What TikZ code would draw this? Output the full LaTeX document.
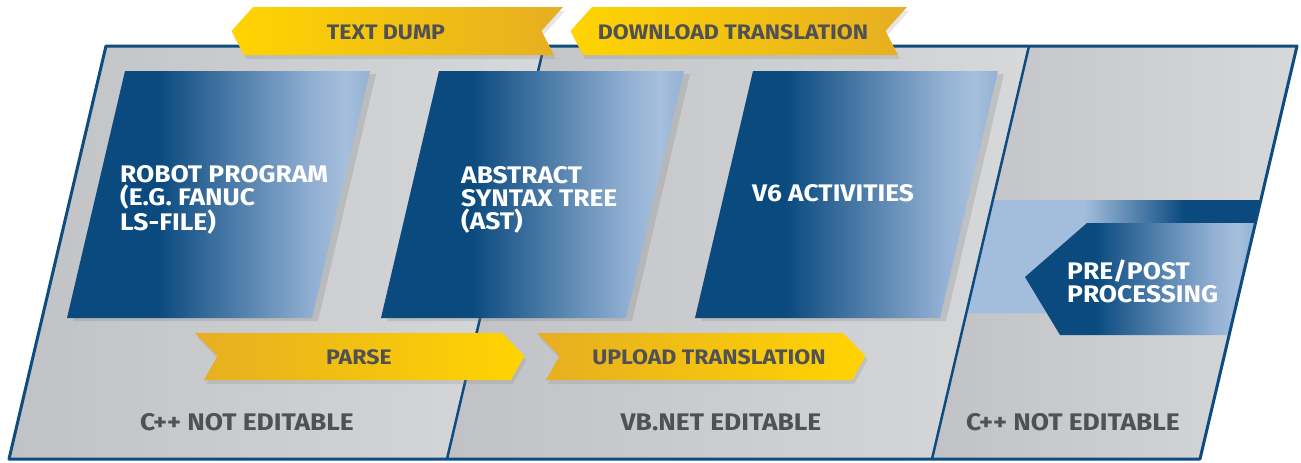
\documentclass[tikz,border=0pt]{standalone}
\usepackage{fontspec}
\setmainfont{Fira Sans}[FakeStretch=1.1]
\usetikzlibrary{shadows}

\definecolor{frameblue}{HTML}{0E4C80}
\definecolor{boxdark}{HTML}{0A4A7F}
\definecolor{boxlight}{HTML}{93B1D4}
\definecolor{boxedge}{HTML}{A6BFDC}
\definecolor{bandlight}{HTML}{A3BDDC}
\definecolor{greydark}{HTML}{C0C2C5}
\definecolor{greylight}{HTML}{D6D8DA}
\definecolor{ribbonbright}{HTML}{FFD400}
\definecolor{ribbongold}{HTML}{E6AE22}
\definecolor{labelgrey}{HTML}{505154}

\pgfdeclarehorizontalshading{boxshade}{100bp}{color(0bp)=(boxdark); color(40bp)=(boxdark); color(66bp)=(boxlight); color(71bp)=(boxedge); color(75bp)=(boxlight); color(100bp)=(boxlight)}
\pgfdeclarehorizontalshading{bandshade}{100bp}{color(0bp)=(bandlight); color(45bp)=(bandlight); color(62bp)=(boxdark); color(100bp)=(boxdark)}

\begin{document}
\begin{tikzpicture}[
  x=1pt, y=-1pt,
  every node/.style={inner sep=0pt},
  panel/.style={left color=greydark, right color=greylight},
  border/.style={draw=frameblue, line width=3pt, line join=round},
  divider/.style={draw=frameblue, line width=2.5pt},
  bluebox/.style={shading=boxshade, drop shadow={opacity=0.25, shadow xshift=6pt, shadow yshift=-3pt}},
  ribbonback/.style={left color=ribbonbright, right color=ribbongold, drop shadow={opacity=0.2, shadow xshift=2pt, shadow yshift=-4pt}},
  ribbonfwd/.style={left color=ribbongold, right color=ribbonbright, drop shadow={opacity=0.2, shadow xshift=2pt, shadow yshift=-4pt}},
  boxtext/.style={text=white, align=left, anchor=west, font=\bfseries\fontsize{24}{23}\selectfont},
  ribbontext/.style={text=labelgrey, font=\bfseries\fontsize{21}{22}\selectfont},
  paneltext/.style={text=labelgrey, font=\bfseries\fontsize{24}{25}\selectfont}
]
\useasboundingbox (0,0) rectangle (1301,463);

% Grey panels
\path[panel] (106,46) -- (544,46) -- (447,459) -- (9,459) -- cycle;
\path[panel] (544,46) -- (1029,46) -- (932,459) -- (447,459) -- cycle;
\path[panel] (1029,46) -- (1297,46) -- (1200,459) -- (932,459) -- cycle;

% Band and arrow in the right panel
\path[shading=bandshade] (993,200) -- (1261,200) -- (1234,313) -- (966,313) -- cycle;
\path[shading=boxshade] (1087,223) -- (1256,223) -- (1229,335) -- (1060,335) -- (1025,277) -- cycle;

% Frame
\path[border] (106,46) -- (1297,46) -- (1200,459) -- (9,459) -- cycle;
\path[divider] (544,46) -- (447,459);
\path[divider] (1029,46) -- (932,459);

% Blue boxes
\foreach \x in {125,439,753}
  \path[bluebox] (\x,71) -- ++(245,0) -- ++(-58,247) -- ++(-245,0) -- cycle;

% Ribbons, top row
\foreach \xl/\xr in {253/563, 592/907}
  \path[ribbonback] (\xl,7) -- (\xr,7) -- ({\xr-21.5},31) -- ({\xr-9},55)
    -- ({\xl-9},55) -- ({\xl-21.5},31) -- cycle;

% Ribbons, bottom row
\foreach \xl/\xr in {195/502, 537/843}
  \path[ribbonfwd] (\xl,333) -- (\xr,333) -- ({\xr+22.5},356) -- ({\xr+9},380)
    -- ({\xl+9},380) -- ({\xl+22.5},356) -- cycle;

% Box labels
\node[boxtext] (robot) at (120,200) {ROBOT PROGRAM\\(E.G. FANUC\\LS-FILE)};
\node[boxtext] (ast) at (461,200) {ABSTRACT\\SYNTAX TREE\\(AST)};
\node[boxtext] (activities) at (752,193) {V6 ACTIVITIES};
\node[boxtext] (prepost) at (1067,281) {PRE/POST\\PROCESSING};

% Ribbon labels
\node[ribbontext] (dump) at (386,32) {TEXT DUMP};
\node[ribbontext] (download) at (733,32) {DOWNLOAD TRANSLATION};
\node[ribbontext] (parse) at (359,357) {PARSE};
\node[ribbontext] (upload) at (709,357) {UPLOAD TRANSLATION};

% Panel labels
\node[paneltext] (cppleft) at (247,422) {C++ NOT EDITABLE};
\node[paneltext] (vbnet) at (721,422) {VB.NET EDITABLE};
\node[paneltext] (cppright) at (1073,422) {C++ NOT EDITABLE};

\end{tikzpicture}
\end{document}
